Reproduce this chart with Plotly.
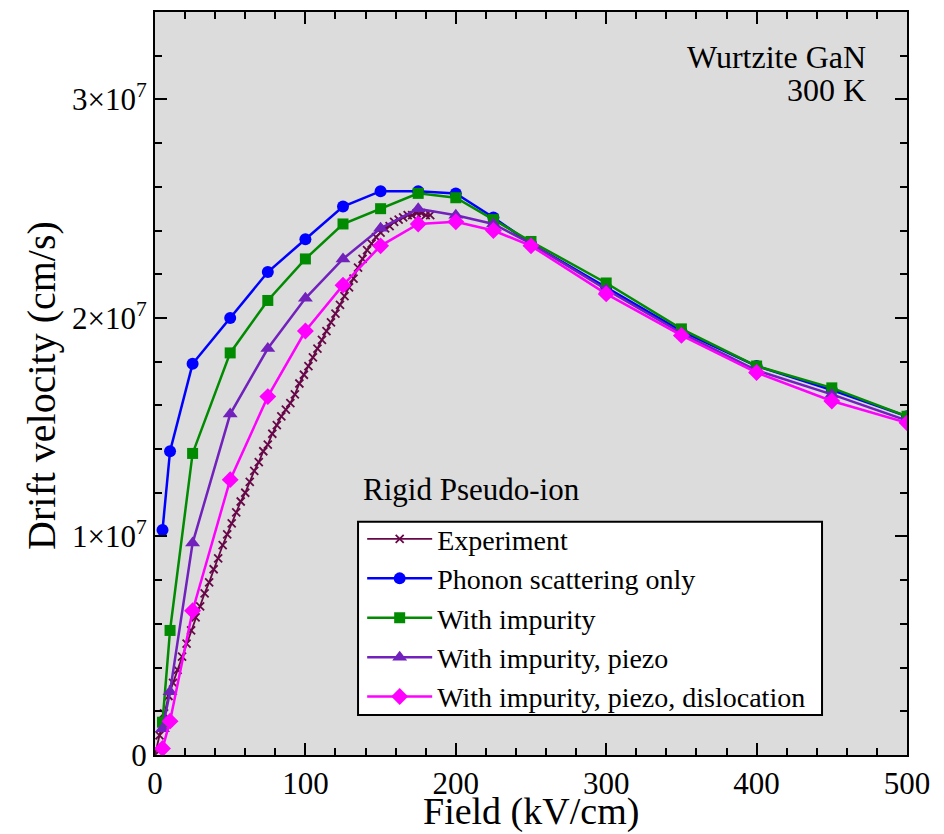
import plotly.graph_objects as go

# Drift velocity in units of 1e7 cm/s, field in kV/cm
exp_field = [0, 3, 6, 9, 12, 15, 18, 21, 24, 27, 30, 33, 36, 39, 42, 45, 48, 51, 54, 57,
             60, 63, 66, 69, 72, 75, 78, 81, 84, 87, 90, 93, 96, 99, 102, 105, 108, 111, 114, 117,
             120, 123, 126, 129, 132, 135, 138, 141, 144, 147, 150, 153, 156, 159, 162, 165, 168,
             171, 174, 177, 180, 183]
exp_vel = [0.00, 0.09, 0.19, 0.27, 0.33, 0.39, 0.45, 0.51, 0.57, 0.63, 0.68, 0.74, 0.79, 0.85,
           0.90, 0.96, 1.01, 1.06, 1.11, 1.16, 1.20, 1.25, 1.30, 1.34, 1.39, 1.42, 1.47, 1.51,
           1.55, 1.58, 1.61, 1.65, 1.70, 1.74, 1.78, 1.82, 1.86, 1.90, 1.94, 1.98, 2.02, 2.06,
           2.10, 2.14, 2.18, 2.23, 2.27, 2.31, 2.34, 2.37, 2.39, 2.41, 2.42, 2.44, 2.45, 2.46,
           2.47, 2.47, 2.48, 2.48, 2.47, 2.47]

sim_field = [5, 10, 25, 50, 75, 100, 125, 150, 175, 200, 225, 250, 300, 350, 400, 450, 500]
phonon = [1.03, 1.39, 1.79, 2.00, 2.21, 2.36, 2.51, 2.58, 2.58, 2.57, 2.46, 2.34, 2.14, 1.94, 1.78, 1.67, 1.55]
impurity = [0.15, 0.57, 1.38, 1.84, 2.08, 2.27, 2.43, 2.50, 2.57, 2.55, 2.45, 2.35, 2.16, 1.95, 1.78, 1.68, 1.55]
piezo = [0.12, 0.29, 0.97, 1.56, 1.86, 2.09, 2.27, 2.41, 2.50, 2.47, 2.43, 2.34, 2.13, 1.93, 1.76, 1.65, 1.53]
dislocation = [0.03, 0.155, 0.66, 1.26, 1.64, 1.94, 2.15, 2.33, 2.43, 2.44, 2.40, 2.33, 2.11, 1.92, 1.75, 1.62, 1.52]

y_ticks = [0, 1, 2, 3]
y_labels = ['0', '1×10<sup>7</sup>', '2×10<sup>7</sup>', '3×10<sup>7</sup>']

scale = 1e7
FONT = '"Liberation Serif", "Times New Roman", Times, serif'

fig = go.Figure()

# Experiment
fig.add_trace(go.Scatter(
    x=exp_field, y=[v * scale for v in exp_vel],
    mode='lines+markers', name='Experiment',
    line=dict(color='rgb(103,7,72)', width=1.8),
    marker=dict(symbol='x-thin', size=8, color='rgb(103,7,72)',
                line=dict(color='rgb(103,7,72)', width=1.8)),
))

series = [
    ('Phonon scattering only', phonon, 'rgb(0,0,255)', 'circle', 12),
    ('With impurity', impurity, 'rgb(0,139,0)', 'square', 11),
    ('With impurity, piezo', piezo, 'rgb(114,33,188)', 'triangle-up', 13),
    ('With impurity, piezo, dislocation', dislocation, 'rgb(255,0,255)', 'diamond', 13),
]
for name, vals, color, sym, size in series:
    fig.add_trace(go.Scatter(
        x=sim_field, y=[v * scale for v in vals],
        mode='lines+markers', name=name,
        line=dict(color=color, width=2.5),
        marker=dict(symbol=sym, size=size, color=color),
    ))

axis_common = dict(
    showline=True, linecolor='black', linewidth=2, mirror='ticks',
    ticks='inside', ticklen=12, tickwidth=2, tickcolor='black',
    showgrid=False, zeroline=False,
    tickfont=dict(family=FONT, size=31, color='black'),
)

fig.update_layout(
    width=936, height=826,
    paper_bgcolor='white', plot_bgcolor='rgb(220,220,220)',
    font=dict(family=FONT, color='black'),
    margin=dict(l=147, r=37, t=2, b=79),
    xaxis=dict(range=[0, 500], dtick=100, tick0=0,
               minor=dict(ticks='inside', ticklen=7, tickwidth=2, tickcolor='black', dtick=20),
               **axis_common),
    yaxis=dict(range=[0, 3.4e7], tickvals=[t * scale for t in y_ticks], ticktext=y_labels,
               minor=dict(ticks='inside', ticklen=7, tickwidth=2, tickcolor='black',
                          tickvals=[i * 2e6 for i in range(18)]),
               **axis_common),
    legend=dict(x=0.2755, y=0.324, xanchor='left', yanchor='top',
                bgcolor='rgba(0,0,0,0)', borderwidth=0,
                font=dict(family=FONT, size=28, color='black'),
                itemwidth=65, tracegroupgap=0),
    showlegend=True,
    # legend frame (white box with black border)
    shapes=[dict(type='rect', xref='paper', yref='paper', x0=0.27, x1=0.887, y0=0.054, y1=0.314,
                 fillcolor='white', line=dict(color='black', width=2), layer='above')],
    annotations=[
        # axis titles
        dict(text='Field (kV/cm)', xref='paper', yref='paper', x=0.5, y=-0.0755,
             xanchor='center', yanchor='middle', showarrow=False,
             font=dict(family=FONT, size=38, color='black')),
        dict(text='Drift velocity (cm/s)', xref='paper', yref='paper', x=-0.15, y=0.497,
             xanchor='center', yanchor='middle', showarrow=False, textangle=-90,
             font=dict(family=FONT, size=40, color='black')),
        # labels inside the plot
        dict(text='Rigid Pseudo-ion', xref='paper', yref='paper', x=0.274, y=0.358,
             xanchor='left', yanchor='middle', showarrow=False,
             font=dict(family=FONT, size=31, color='black')),
        dict(text='Wurtzite GaN', xref='paper', yref='paper', x=0.948, y=0.94,
             xanchor='right', yanchor='middle', showarrow=False,
             font=dict(family=FONT, size=32, color='black')),
        dict(text='300 K', xref='paper', yref='paper', x=0.948, y=0.895,
             xanchor='right', yanchor='middle', showarrow=False,
             font=dict(family=FONT, size=32, color='black')),
    ],
)

fig.write_html('out.html')
